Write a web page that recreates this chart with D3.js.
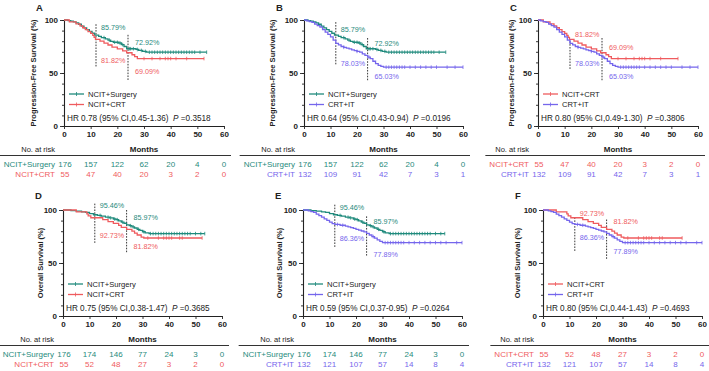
<!DOCTYPE html>
<html>
<head>
<meta charset="utf-8">
<script src="https://cdn.jsdelivr.net/npm/d3@7"></script>
<style>
body { margin: 0; background: #fff; }
svg { display: block; }
text { font-family: "Liberation Sans", Arial, sans-serif; }
</style>
</head>
<body>
<svg id="chart" width="709" height="371"></svg>
<script>
// ---- data ----
const months = [0, 10, 20, 30, 40, 50, 60];

// progression-free survival, [month, %] at each drop
const pfsSurgery = [[0,100],[1.5,99.4],[2.5,98.9],[3.5,98.3],[4.5,97.2],[5.5,96.0],[6.5,94.3],[7.5,92.6],[8.5,90.9],[9.5,89.2],[10.5,87.5],[11.5,85.8],[13,84.6],[14,83.4],[15.5,82.2],[16.5,81.0],[17.5,79.8],[18.5,79.0],[20.5,78.3],[21.5,76.8],[22.5,75.0],[23.5,72.9],[27,72.2],[28,71.3],[29.5,70.4],[31,69.6]];
const pfsSurgeryCensor = [15,17,19,20,21,22,24.5,25,26,27.5,29,30.5,32,33,34,35,36,37,38,39,40,41,42,43,44,45,46,47,48,49,51,53.5];
const pfsCrt = [[0,100],[2,98.2],[4.5,96.4],[6,94.5],[7,92.7],[8,90.9],[9,89.1],[10,87.3],[10.8,85.5],[11.3,83.6],[11.8,81.8],[13.5,80.0],[15,78.2],[16.5,76.4],[18,74.5],[20,72.7],[22,70.9],[23.5,69.1],[25.5,67.2],[26.5,65.4],[27.5,63.6]];
const pfsCrtCensor = [30,33,36,38,39,40,42,46,52.5];
const pfsIt = [[0,100],[1,99.2],[2,98.5],[3,97.7],[4,96.2],[5,94.7],[6,93.2],[7,90.9],[8,88.6],[9,86.4],[10,84.1],[11,81.1],[12,78.0],[13,76.5],[14,75.0],[15,74.2],[16,73.5],[17,72.7],[18,71.9],[19,71.2],[20,70.4],[21,69.6],[22,68.1],[23,66.6],[24,65.0],[25,63.5],[26,61.1],[27,58.8],[28,57.2],[29,56.2],[30,55.5]];
const pfsItCensor = [15,20,24.5,31,32,33,34,35,36,37,38,40,42,44,46,48,50,54,57,60];

// overall survival
const osSurgery = [[0,100],[3,99.4],[5,98.9],[7,98.3],[8.5,97.7],[10,96.6],[11.5,95.5],[13,94.9],[14.5,94.3],[16,93.2],[17.5,92.6],[19,91.5],[20,90.9],[21,89.8],[22,88.6],[23,87.5],[24,86.0],[25,85.2],[26,84.1],[27,83.0],[28,81.8],[29,80.7],[30,79.5],[31,78.4],[32.5,77.7]];
const osSurgeryCensor = [14,17,18,19.5,20.5,22.5,25.5,26.5,28.5,30.5,33,34,35,36,37,38,39,40,41,42,43,44,45,46,47,48,50,52,53.5];
const osCrt = [[0,100],[5,98.2],[9,96.4],[9.5,94.5],[10.5,92.7],[15,90.9],[17,89.1],[19,87.3],[21,85.5],[22,83.6],[24,81.8],[26,80.0],[27,78.2],[28,76.4],[29.5,74.5],[30.5,73.6]];
const osCrtCensor = [32,36,38,39,40,41,44,45,52.5];
const osIt = [[0,100],[2,99.2],[3,98.5],[4,97.7],[5,96.2],[6,94.7],[7,93.2],[8,91.7],[9,90.2],[10,88.6],[11,87.1],[12,86.4],[14,85.6],[16,84.8],[17,84.1],[18,83.3],[19,82.6],[20,81.8],[21,81.0],[22,80.2],[23,79.4],[24,77.9],[25,76.4],[26,74.9],[27,73.4],[28,71.9],[29,70.4],[30,69.2]];
const osItCensor = [13,15,26.5,31,32,33,34,35,36,37,38,40,42,44,46,48,50,52,54,58,60];

// numbers at risk at 0,10..60 months
const pfsRiskSurgery = [176,157,122,62,20,4,0];
const pfsRiskCrt = [55,47,40,20,3,2,0];
const pfsRiskIt = [132,109,91,42,7,3,1];
const osRiskSurgery = [176,174,146,77,24,3,0];
const osRiskCrt = [55,52,48,27,3,2,0];
const osRiskIt = [132,121,107,57,14,8,4];

// survival rates printed at 12 and 24 months
const pfsRateSurgery = ["85.79%", "72.92%"];
const pfsRateCrt = ["81.82%", "69.09%"];
const pfsRateIt = ["78.03%", "65.03%"];
const osRateSurgery = ["95.46%", "85.97%"];
const osRateCrt = ["92.73%", "81.82%"];
const osRateIt = ["86.36%", "77.89%"];

const groupNames = { surgery: "NCIT+Surgery", crt: "NCIT+CRT", it: "CRT+IT" };
const groupColors = { surgery: "#1f8a7c", crt: "#ef5b5e", it: "#7566ec" };

const series = {
  pfs: {
    surgery: { steps: pfsSurgery, censor: pfsSurgeryCensor, risk: pfsRiskSurgery, rate: pfsRateSurgery },
    crt: { steps: pfsCrt, censor: pfsCrtCensor, risk: pfsRiskCrt, rate: pfsRateCrt },
    it: { steps: pfsIt, censor: pfsItCensor, risk: pfsRiskIt, rate: pfsRateIt }
  },
  os: {
    surgery: { steps: osSurgery, censor: osSurgeryCensor, risk: osRiskSurgery, rate: osRateSurgery },
    crt: { steps: osCrt, censor: osCrtCensor, risk: osRiskCrt, rate: osRateCrt },
    it: { steps: osIt, censor: osItCensor, risk: osRiskIt, rate: osRateIt }
  }
};
const curveEnd = { surgery: 53.5, crt: 52.5, it: 60 };

const yTitles = { pfs: "Progression-Free Survival (%)", os: "Overall Survival (%)" };

// ---- layout ----
const rows = [
  { top: 20, bot: 126, letterY: 11 },
  { top: 210, bot: 316, letterY: 199 }
];

const panels = [
  { letter: "A", end: "pfs", groups: ["surgery","crt"], hr: "HR 0.78 (95% CI,0.45-1.36)", p: "0.3518",
    row: 0, col: [64,224], titleDx: -31, lab: [[92.5,79],[62,51]], dash: [[96,55],[86,43]] },
  { letter: "B", end: "pfs", groups: ["surgery","it"], hr: "HR 0.64 (95% CI,0.43-0.94)", p: "0.0196",
    row: 0, col: [304,463], titleDx: -32, lab: [[91.5,78],[59.4,47]], dash: [[98,58],[83,42]] },
  { letter: "C", end: "pfs", groups: ["crt","it"], hr: "HR 0.80 (95% CI,0.49-1.30)", p: "0.3806",
    row: 0, col: [538,698], titleDx: -27, lab: [[86,74],[59.4,47]], dash: [[80,53],[83,42]] },
  { letter: "D", end: "os", groups: ["surgery","crt"], hr: "HR 0.75 (95% CI,0.38-1.47)", p: "0.3685",
    row: 1, col: [63,222], titleDx: -23, lab: [[104.7,92.5],[75.5,66]], dash: [[106,69],[100,59]] },
  { letter: "E", end: "os", groups: ["surgery","it"], hr: "HR 0.59 (95% CI,0.37-0.95)", p: "0.0264",
    row: 1, col: [303,462], titleDx: -24, lab: [[102.8,89.6],[73.6,58.5]], dash: [[105,64],[94,57]] },
  { letter: "F", end: "os", groups: ["crt","it"], hr: "HR 0.80 (95% CI,0.44-1.43)", p: "0.4693",
    row: 1, col: [543,702], titleDx: -26, lab: [[96.5,89.5],[74.5,61.3]], dash: [[93,61],[91,53]] }
];

const ink = "#222";
const svg = d3.select("#chart");

function valueAt(steps, t) {
  let v = steps[0][1];
  steps.forEach(s => { if (s[0] <= t) v = s[1]; });
  return v;
}

panels.forEach(drawPanel);

function drawPanel(p) {
  const r = rows[p.row];
  const x0 = p.col[0], x1 = p.col[1];
  const x = d3.scaleLinear().domain([0, 60]).range(p.col);
  const y = d3.scaleLinear().domain([0, 100]).range([r.bot, r.top]);
  const g = svg.append("g");

  g.append("text")
    .attr("x", x0 - 28).attr("y", r.letterY)
    .attr("font-size", 9.5).attr("font-weight", "bold").attr("fill", ink)
    .text(p.letter);

  // minor y ticks
  g.append("g")
    .attr("transform", `translate(${x0},0)`)
    .call(d3.axisLeft(y).tickValues(d3.range(0, 101, 10)).tickSize(2).tickSizeOuter(0).tickFormat(""))
    .call(a => a.select(".domain").remove());
  // major y ticks
  let yAxis = g.append("g")
    .attr("transform", `translate(${x0},0)`)
    .call(d3.axisLeft(y).tickValues([0, 50, 100]).tickSize(4).tickSizeOuter(0).tickPadding(2));
  yAxis.selectAll("text").attr("font-size", 8).attr("font-weight", "bold").attr("fill", ink).style("font-family", null);

  let xAxis = g.append("g")
    .attr("transform", `translate(0,${r.bot})`)
    .call(d3.axisBottom(x).tickValues(months).tickSize(3).tickSizeOuter(0).tickPadding(2.5));
  xAxis.selectAll("text").attr("font-size", 8).attr("font-weight", "bold").attr("fill", ink).style("font-family", null);

  g.selectAll(".domain").attr("stroke", ink).attr("stroke-width", 1.1);
  g.selectAll(".tick line").attr("stroke", ink).attr("stroke-width", 0.9);

  g.append("text")
    .attr("transform", `translate(${x0 + p.titleDx},${(r.top + r.bot) / 2}) rotate(-90)`)
    .attr("text-anchor", "middle").attr("dy", "0.35em")
    .attr("font-size", 7.5).attr("font-weight", "bold").attr("fill", ink)
    .text(yTitles[p.end]);

  // 12 / 24 month reference lines
  [12, 24].forEach((t, i) => {
    g.append("line")
      .attr("x1", x(t)).attr("x2", x(t))
      .attr("y1", y(p.dash[i][0])).attr("y2", y(p.dash[i][1]))
      .attr("stroke", "#222").attr("stroke-width", 0.9).attr("stroke-dasharray", "1.6,1.3");
  });

  const line = d3.line().x(d => x(d[0])).y(d => y(d[1])).curve(d3.curveStepAfter);

  p.groups.forEach((key, gi) => {
    const s = series[p.end][key];
    const col = groupColors[key];
    const pts = s.steps.concat([[curveEnd[key], s.steps[s.steps.length - 1][1]]]);
    g.append("path")
      .attr("d", line(pts))
      .attr("fill", "none").attr("stroke", col).attr("stroke-width", 1.3);
    g.selectAll(null).data(s.censor).enter().append("line")
      .attr("x1", d => x(d)).attr("x2", d => x(d))
      .attr("y1", d => y(valueAt(s.steps, d)) - 1.8)
      .attr("y2", d => y(valueAt(s.steps, d)) + 1.8)
      .attr("stroke", col).attr("stroke-width", 0.8);

    // rate labels
    [12, 24].forEach((t, i) => {
      g.append("text")
        .attr("x", x(t) + (i === 0 ? 5 : 7))
        .attr("y", y(p.lab[gi][i])).attr("dy", "0.35em")
        .attr("font-size", 7.2).attr("fill", col)
        .text(s.rate[i]);
    });

    // legend
    const ly = r.top + 74 + gi * 10.5;
    g.append("line")
      .attr("x1", x0 + 5).attr("x2", x0 + 20).attr("y1", ly).attr("y2", ly)
      .attr("stroke", col).attr("stroke-width", 1.3);
    g.append("line")
      .attr("x1", x0 + 12.5).attr("x2", x0 + 12.5).attr("y1", ly - 2).attr("y2", ly + 2)
      .attr("stroke", col).attr("stroke-width", 0.8);
    g.append("text")
      .attr("x", x0 + 24).attr("y", ly).attr("dy", "0.35em")
      .attr("font-size", 7.6).attr("fill", ink)
      .text(groupNames[key]);
  });

  const hr = g.append("text")
    .attr("x", x0 + 3).attr("y", r.top + 100.5)
    .attr("font-size", 8.2).attr("fill", ink);
  hr.append("tspan").text(p.hr + "\u00a0\u00a0");
  hr.append("tspan").attr("font-style", "italic").text("P");
  hr.append("tspan").text("\u00a0=" + p.p);

  // number at risk table
  g.append("text")
    .attr("x", x(30)).attr("y", r.bot + 26)
    .attr("text-anchor", "middle")
    .attr("font-size", 8).attr("font-weight", "bold").attr("fill", ink)
    .text("Months");
  g.append("text")
    .attr("x", x0 - 9).attr("y", r.bot + 26)
    .attr("text-anchor", "end")
    .attr("font-size", 7.5).attr("fill", ink)
    .text("No. at risk");

  let nameW = 0;
  p.groups.forEach((key, gi) => {
    const s = series[p.end][key];
    const col = groupColors[key];
    const ry = r.bot + 40.5 + gi * 10;
    const nm = g.append("text")
      .attr("x", x0 - 9).attr("y", ry)
      .attr("text-anchor", "end")
      .attr("font-size", 8).attr("fill", col)
      .text(groupNames[key]);
    nameW = Math.max(nameW, nm.node().getComputedTextLength());
    g.selectAll(null).data(months).enter().append("text")
      .attr("x", d => x(d) + (d === 0 ? 1 : 0)).attr("y", ry)
      .attr("text-anchor", "middle")
      .attr("font-size", 8).attr("fill", col)
      .text((d, i) => s.risk[i]);
  });
  g.append("line")
    .attr("x1", Math.max(0, x0 - 9 - nameW - 4)).attr("x2", Math.min(709, x1 + 7))
    .attr("y1", r.bot + 29.5).attr("y2", r.bot + 29.5)
    .attr("stroke", "#333").attr("stroke-width", 1);
}
</script>
</body>
</html>
